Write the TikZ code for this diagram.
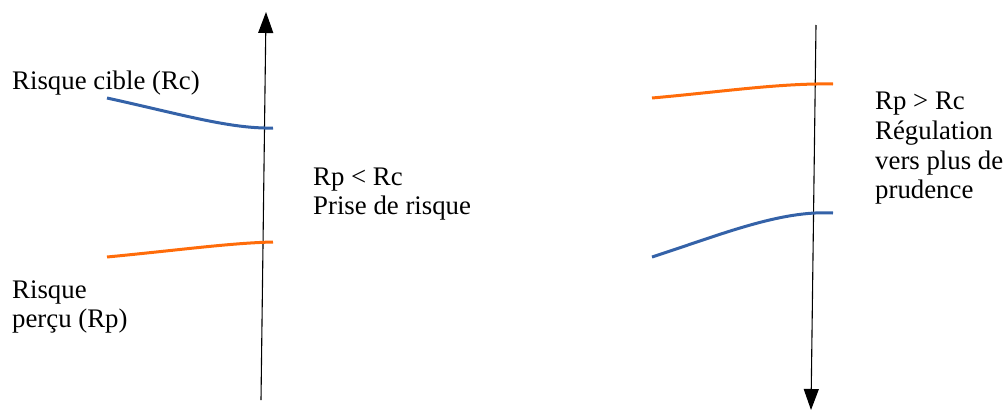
\documentclass[tikz,border=0pt]{standalone}
\usepackage{fontspec}
\setmainfont{Liberation Serif}
\usetikzlibrary{arrows.meta}
\definecolor{cblue}{RGB}{52,98,168}
\definecolor{corange}{RGB}{255,108,10}
\tikzset{
  axis/.style={line width=1.1pt,-{Triangle[length=21pt,width=15pt]}},
  curveb/.style={cblue,line width=3pt},
  curveo/.style={corange,line width=3pt},
  lbl/.style={anchor=base west,inner sep=0pt,font=\fontsize{26.8}{30}\selectfont}
}
\begin{document}
\begin{tikzpicture}[x=1pt,y=-1pt]
\useasboundingbox (0,0) rectangle (1004,410);
% axes
\coordinate (la0) at (261,400);
\coordinate (la1) at (266,12);
\coordinate (ra0) at (816,25);
\coordinate (ra1) at (811,410);
\draw[axis] (la0) -- (la1);
\draw[axis] (ra0) -- (ra1);
% left curves
\draw[curveb] (107,98) .. controls (180,114) and (230,129) .. (273,128);
\draw[curveo] (107,257) .. controls (180,250) and (230,243) .. (273,242);
% right curves
\draw[curveo] (652,98) .. controls (720,92) and (780,83) .. (833,84);
\draw[curveb] (652,257) .. controls (720,235) and (780,210) .. (833,213);
% labels
\node[lbl] (rc) at (12,89) {Risque cible (Rc)};
\node[lbl] (rp1) at (12,298) {Risque};
\node[lbl] (rp2) at (12,327) {perçu (Rp)};
\node[lbl] (m1) at (313,185) {Rp < Rc};
\node[lbl] (m2) at (313,214) {Prise de risque};
\node[lbl] (r1) at (875,109) {Rp > Rc};
\node[lbl] (r2) at (875,139) {Régulation};
\node[lbl] (r3) at (875,169) {vers plus de};
\node[lbl] (r4) at (875,198) {prudence};
\end{tikzpicture}
\end{document}
